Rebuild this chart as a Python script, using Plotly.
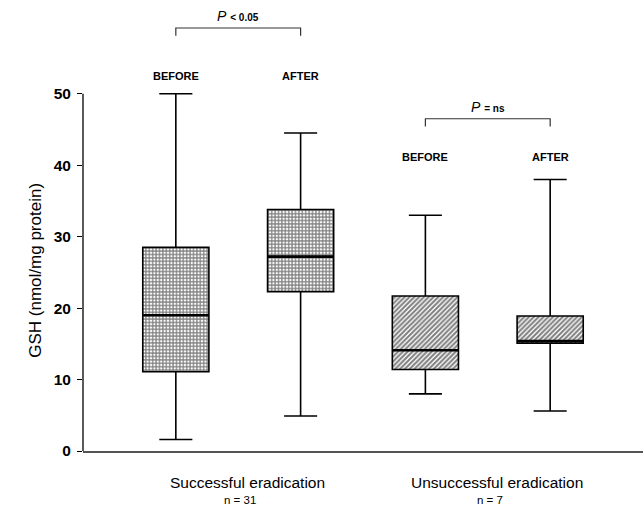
import plotly.graph_objects as go

# ---- data ----
groups = ["Successful eradication", "Unsuccessful eradication"]
group_n = ["n = 31", "n = 7"]
phases = ["BEFORE", "AFTER", "BEFORE", "AFTER"]
positions = [0, 1, 2, 3]
q_min = [1.6, 4.9, 8.0, 5.6]
q_1 = [11.1, 22.3, 11.4, 15.1]
q_med = [19.0, 27.2, 14.1, 15.4]
q_3 = [28.5, 33.8, 21.7, 18.9]
q_max = [50.0, 44.5, 33.0, 38.0]
patterns = ["+", "+", "/", "/"]
p_labels = ["<i>P</i> <span style='font-size:10px'><b>&lt; 0.05</b></span>",
            "<i>P</i> <span style='font-size:10px'><b>= ns</b></span>"]
y_ticks = [0, 10, 20, 30, 40, 50]

box_w = 0.53
fig = go.Figure()

# patterned fill between quartiles
fig.add_trace(go.Bar(
    x=positions, base=q_1, y=[b - a for a, b in zip(q_1, q_3)],
    width=box_w,
    marker=dict(color="white", line=dict(width=0),
                pattern=dict(shape=patterns, size=3.4, solidity=0.6,
                             fgcolor="black", bgcolor="white")),
    hoverinfo="skip", showlegend=False))

fig.add_trace(go.Box(
    x=positions, q1=q_1, median=q_med, q3=q_3,
    lowerfence=q_min, upperfence=q_max,
    width=box_w, whiskerwidth=0.5, boxpoints=False,
    fillcolor="rgba(0,0,0,0)", line=dict(color="black", width=1.6),
    hoverinfo="skip", showlegend=False))

# thicker median lines
mx, my = [], []
for xp, md in zip(positions, q_med):
    mx += [xp - box_w / 2, xp + box_w / 2, None]
    my += [md, md, None]
fig.add_trace(go.Scatter(x=mx, y=my, mode="lines", line=dict(color="black", width=2.6),
                         hoverinfo="skip", showlegend=False))

annotations = []
shapes = []

# phase labels and brackets
label_y = [52.5, 52.5, 41.2, 41.2]
for xp, ph, ly in zip(positions, phases, label_y):
    annotations.append(dict(x=xp, y=ly, xref="x", yref="y", text=f"<b>{ph}</b>",
                            showarrow=False, font=dict(size=11, color="black")))

bracket_y = [59.2, 46.5]
bracket_drop = 1.1
for gi in range(2):
    xa, xb = positions[2 * gi], positions[2 * gi + 1]
    by = bracket_y[gi]
    shapes.append(dict(type="path",
                       path=f"M {xa},{by - bracket_drop} L {xa},{by} L {xb},{by} L {xb},{by - bracket_drop}",
                       xref="x", yref="y", line=dict(color="#333", width=1.2)))
    annotations.append(dict(x=(xa + xb) / 2, y=by, xref="x", yref="y", text=p_labels[gi],
                            showarrow=False, yanchor="bottom", yshift=2,
                            font=dict(size=14, color="black")))
    # group labels below axis
    annotations.append(dict(x=(xa + xb) / 2, y=0, xref="x", yref="y", text=groups[gi],
                            showarrow=False, yshift=-31, xshift=9,
                            font=dict(size=15.5, color="black")))
    annotations.append(dict(x=(xa + xb) / 2, y=0, xref="x", yref="y", text=group_n[gi],
                            showarrow=False, yshift=-49, xshift=2,
                            font=dict(size=11.5, color="black")))

# y-axis line limited to tick range
shapes.append(dict(type="line", xref="paper", yref="y", x0=0, x1=0,
                   y0=y_ticks[0], y1=y_ticks[-1], line=dict(color="black", width=1.3)))

annotations.append(dict(x=0, y=25.3, xref="paper", yref="y", text="GSH (nmol/mg protein)",
                        textangle=-90, showarrow=False, xshift=-59,
                        font=dict(size=17, color="black")))

fig.update_layout(
    width=643, height=507,
    margin=dict(l=83, r=0, t=8, b=56),
    paper_bgcolor="white", plot_bgcolor="white",
    font=dict(family="Liberation Sans, Arial, sans-serif", color="black"),
    xaxis=dict(range=[-0.744, 3.744], showgrid=False, zeroline=False,
               showticklabels=False, showline=True, linecolor="#555", linewidth=1.5,
               ticks=""),
    yaxis=dict(range=[0, 62], showgrid=False, zeroline=False, showline=False,
               tickvals=y_ticks, ticks="outside", ticklen=5, tickcolor="black",
               tickwidth=1.3,
               tickfont=dict(size=15.5, family="Liberation Sans, Arial", color="black",
                             weight="bold"),
               ticklabelstandoff=3),
    barmode="overlay",
    shapes=shapes, annotations=annotations,
    showlegend=False,
)

fig.write_html("out.html", post_script="document.body.style.margin='0';",
               config={"displayModeBar": False})
